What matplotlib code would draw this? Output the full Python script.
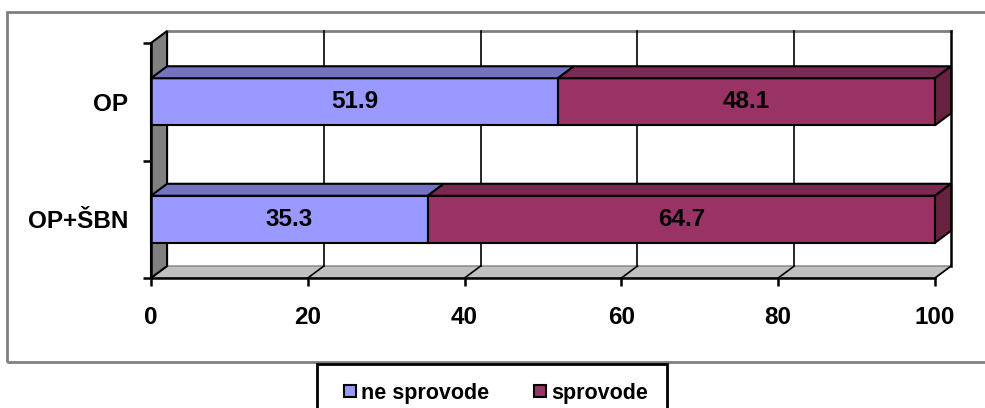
import matplotlib.pyplot as plt
from matplotlib.patches import Polygon, Rectangle
from matplotlib.lines import Line2D

categories = ["OP", "OP+ŠBN"]
ne_sprovode = [51.9, 35.3]
sprovode = [48.1, 64.7]
series_names = ["ne sprovode", "sprovode"]
x_ticks = [0, 20, 40, 60, 80, 100]

plt.rcParams["font.family"] = ["Liberation Sans", "DejaVu Sans"]
plt.rcParams["font.weight"] = "bold"

W, H = 985, 408
fig = plt.figure(figsize=(W / 100, H / 100), dpi=100)
ax = fig.add_axes([151 / W, (H - 278) / H, 784 / W, 235 / H])
n = len(categories)
xmax = x_ticks[-1]
ax.set_xlim(0, xmax)
ax.set_ylim(0, n)
ax.patch.set_visible(False)

# depth of the 3d box in data units
dx, dy = 2.05, 0.102
half = 0.2
fs = 17.5

colors = {
    "ne sprovode": ("#9999FF", "#7373C2", "#5C5C99"),
    "sprovode": ("#993366", "#7A2952", "#66223F"),
}


def poly(pts, fc, z=3, ec="black", lw=1.5):
    ax.add_patch(Polygon(pts, closed=True, fc=fc, ec=ec, lw=lw,
                         zorder=z, clip_on=False, joinstyle="miter"))


# floor and walls
poly([(0, 0), (xmax, 0), (xmax + dx, dy), (dx, dy)], "#C0C0C0", z=1, ec="#808080", lw=1)
poly([(0, 0), (dx, dy), (dx, n + dy), (0, n)], "#808080", z=1.2, ec="black", lw=1.5)
ax.plot([dx, xmax + dx], [n + dy, n + dy], color="#808080", lw=2, zorder=1, clip_on=False)
for v in x_ticks[1:]:
    ax.plot([v + dx, v + dx], [dy, n + dy], color="black", lw=1.2 if v < xmax else 1.8,
            zorder=1.5, clip_on=False)
    ax.plot([v, v + dx], [0, dy], color="black", lw=1.2, zorder=1.5, clip_on=False)


def box(x0, x1, yc, cols, side):
    y0, y1 = yc - half, yc + half
    front, top, right = cols
    poly([(x0, y0), (x1, y0), (x1, y1), (x0, y1)], front)
    poly([(x0, y1), (x1, y1), (x1 + dx, y1 + dy), (x0 + dx, y1 + dy)], top)
    if side:
        poly([(x1, y0), (x1 + dx, y0 + dy), (x1 + dx, y1 + dy), (x1, y1)], right)


ypos = [n - 0.5 - i for i in range(n)]
for yc, a, b in zip(ypos, ne_sprovode, sprovode):
    box(0, a, yc, colors["ne sprovode"], False)
    box(a, a + b, yc, colors["sprovode"], True)
    ax.text(a / 2, yc, f"{a:.1f}", ha="center", va="center", fontsize=fs,
            fontweight="bold", zorder=5)
    ax.text(a + b / 2, yc, f"{b:.1f}", ha="center", va="center", fontsize=fs,
            fontweight="bold", zorder=5)

# axes
for s in ["top", "right"]:
    ax.spines[s].set_visible(False)
for s in ["left", "bottom"]:
    ax.spines[s].set_linewidth(1.8)
    ax.spines[s].set_zorder(4)
ax.set_xticks(x_ticks)
ax.tick_params(axis="x", length=5.5, width=1.8, pad=15, labelsize=fs)
ax.set_yticks(range(n + 1))
ax.set_yticklabels([])
ax.tick_params(axis="y", which="major", length=6, width=1.8)
ax.set_yticks(ypos, minor=True)
ax.set_yticklabels(categories, minor=True)
ax.tick_params(axis="y", which="minor", length=0, pad=16.5, labelsize=fs)
for lab in ax.get_xticklabels() + ax.get_yticklabels(minor=True):
    lab.set_fontweight("bold")

# outer frame
fig.add_artist(Rectangle((7 / W, 1 - 362 / H), 1.0, 350 / H, transform=fig.transFigure,
                         fill=False, ec="#808080", lw=2))

handles = [Line2D([], [], ls="none", marker="s", ms=8.5, mfc=colors[s][0],
                  mec="black", mew=1.5) for s in series_names]
leg = fig.legend(handles, series_names, loc="upper left",
                 bbox_to_anchor=(317 / W, 1 - 364 / H), borderaxespad=0, ncol=2,
                 fontsize=15.5, handlelength=1.3, handletextpad=-0.15, columnspacing=1.73,
                 borderpad=0.88, fancybox=False, edgecolor="black", framealpha=1)
leg.get_frame().set_linewidth(2)
for t in leg.get_texts():
    t.set_fontweight("bold")

fig.savefig("out.png", dpi=100)
